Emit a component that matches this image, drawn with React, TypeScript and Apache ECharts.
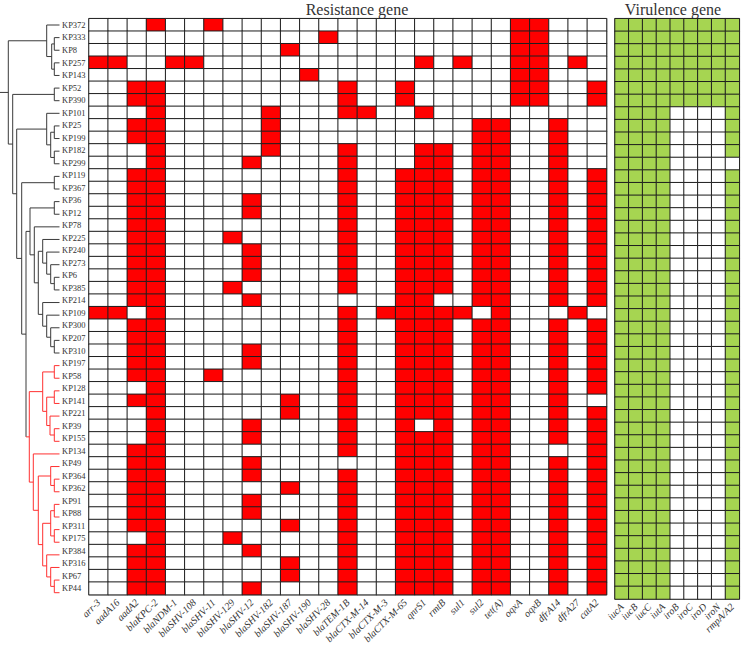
import React, { useEffect, useRef } from "react";
import * as echarts from "echarts";

// ---------- data ----------
const strains = [
  "KP372", "KP333", "KP8", "KP257", "KP143", "KP52", "KP390", "KP101", "KP25", "KP199",
  "KP182", "KP299", "KP119", "KP367", "KP36", "KP12", "KP78", "KP225", "KP240", "KP273",
  "KP6", "KP385", "KP214", "KP109", "KP300", "KP207", "KP310", "KP197", "KP58", "KP128",
  "KP141", "KP221", "KP39", "KP155", "KP134", "KP49", "KP364", "KP362", "KP91", "KP88",
  "KP311", "KP175", "KP384", "KP316", "KP67", "KP44",
];

const resistanceGenes = [
  "arr-3", "aadA16", "aadA2", "blaKPC-2", "blaNDM-1", "blaSHV-108", "blaSHV-11", "blaSHV-129",
  "blaSHV-12", "blaSHV-182", "blaSHV-187", "blaSHV-190", "blaSHV-28", "blaTEM-1B", "blaCTX-M-14",
  "blaCTX-M-3", "blaCTX-M-65", "qnrS1", "rmtB", "sul1", "sul2", "tet(A)", "oqxA", "oqxB",
  "dfrA14", "dfrA27", "catA2",
];

const virulenceGenes = ["iucA", "iucB", "iucC", "iutA", "iroB", "iroC", "iroD", "iroN", "rmpA/A2"];

// indices (into resistanceGenes) of the genes present in each strain, in strain order
const resistanceHits = [
  [3, 6, 22, 23],
  [12, 22, 23],
  [10, 22, 23],
  [0, 1, 4, 5, 17, 19, 22, 23, 25],
  [11, 22, 23],
  [2, 3, 13, 16, 22, 23, 26],
  [2, 3, 13, 16, 22, 23, 26],
  [3, 9, 13, 14, 17],
  [2, 3, 9, 20, 21, 24],
  [2, 3, 9, 20, 21, 24],
  [3, 9, 13, 17, 18, 20, 21, 24],
  [3, 8, 13, 17, 18, 20, 21, 24],
  [2, 3, 13, 16, 17, 18, 20, 21, 24, 26],
  [2, 3, 13, 16, 17, 18, 20, 21, 24, 26],
  [2, 3, 8, 13, 16, 17, 18, 20, 21, 24, 26],
  [2, 3, 8, 13, 16, 17, 18, 20, 21, 24, 26],
  [2, 3, 13, 16, 17, 18, 20, 21, 24, 26],
  [2, 3, 7, 13, 16, 17, 18, 20, 21, 24, 26],
  [2, 3, 8, 13, 16, 17, 18, 20, 21, 24, 26],
  [2, 3, 8, 13, 16, 17, 18, 20, 21, 24, 26],
  [2, 3, 8, 13, 16, 17, 18, 20, 21, 24, 26],
  [2, 3, 7, 13, 16, 17, 18, 20, 21, 24, 26],
  [2, 3, 8, 16, 17, 20, 21, 24, 26],
  [0, 1, 3, 13, 15, 16, 17, 18, 19, 21, 25],
  [2, 3, 13, 16, 17, 18, 20, 21, 24, 26],
  [2, 3, 13, 16, 17, 18, 20, 21, 24, 26],
  [2, 3, 8, 13, 16, 17, 18, 20, 21, 24, 26],
  [2, 3, 8, 13, 16, 17, 18, 20, 21, 24, 26],
  [2, 3, 6, 13, 16, 17, 18, 20, 21, 24, 26],
  [3, 13, 16, 17, 18, 20, 21, 24, 26],
  [2, 3, 10, 13, 16, 17, 18, 20, 21, 24],
  [3, 10, 13, 16, 17, 18, 20, 21, 24, 26],
  [3, 8, 13, 16, 18, 20, 21, 24, 26],
  [3, 8, 13, 16, 17, 18, 20, 21, 24, 26],
  [2, 3, 13, 16, 17, 18, 20, 21, 26],
  [2, 3, 8, 16, 17, 18, 20, 21, 24, 26],
  [2, 3, 8, 13, 16, 17, 18, 20, 21, 24, 26],
  [2, 3, 10, 13, 16, 17, 18, 20, 21, 24, 26],
  [2, 3, 8, 13, 16, 17, 18, 20, 21, 24, 26],
  [2, 3, 8, 13, 16, 17, 18, 20, 21, 24, 26],
  [2, 3, 10, 13, 16, 17, 18, 20, 21, 24, 26],
  [3, 7, 13, 16, 17, 18, 20, 21, 24, 26],
  [2, 3, 8, 13, 16, 17, 18, 20, 21, 24, 26],
  [2, 3, 10, 13, 16, 17, 18, 20, 21, 24, 26],
  [2, 3, 10, 13, 16, 17, 18, 20, 21, 24, 26],
  [2, 3, 8, 13, 16, 17, 18, 20, 21, 24, 26],
];

// indices (into virulenceGenes) present in each strain
const virulenceHits = [
  [0, 1, 2, 3, 4, 5, 6, 7, 8],
  [0, 1, 2, 3, 4, 5, 6, 7, 8],
  [0, 1, 2, 3, 4, 5, 6, 7, 8],
  [0, 1, 2, 3, 4, 5, 6, 7, 8],
  [0, 1, 2, 3, 4, 5, 6, 7, 8],
  [0, 1, 2, 3, 4, 5, 6, 7, 8],
  [0, 1, 2, 3, 4, 5, 6, 7, 8],
  [0, 1, 2, 3, 8], [0, 1, 2, 3, 8], [0, 1, 2, 3, 8], [0, 1, 2, 3, 8],
  [0, 1, 2, 3],
  [0, 1, 2, 3, 8], [0, 1, 2, 3, 8], [0, 1, 2, 3, 8], [0, 1, 2, 3, 8], [0, 1, 2, 3, 8],
  [0, 1, 2, 3, 8], [0, 1, 2, 3, 8], [0, 1, 2, 3, 8], [0, 1, 2, 3, 8], [0, 1, 2, 3, 8],
  [0, 1, 2, 3, 8], [0, 1, 2, 3, 8], [0, 1, 2, 3, 8], [0, 1, 2, 3, 8], [0, 1, 2, 3, 8],
  [0, 1, 2, 3, 8], [0, 1, 2, 3, 8], [0, 1, 2, 3, 8], [0, 1, 2, 3, 8], [0, 1, 2, 3, 8],
  [0, 1, 2, 3, 8], [0, 1, 2, 3, 8], [0, 1, 2, 3, 8], [0, 1, 2, 3, 8], [0, 1, 2, 3, 8],
  [0, 1, 2, 3, 8], [0, 1, 2, 3, 8], [0, 1, 2, 3, 8], [0, 1, 2, 3, 8], [0, 1, 2, 3, 8],
  [0, 1, 2, 3, 8], [0, 1, 2, 3, 8], [0, 1, 2, 3, 8], [0, 1, 2, 3, 8],
];

// dendrogram: [node, height (distance from leaves), child 1, child 2]; children listed before parents
const dendroNodes: [string, number, string, string][] = [
  ["A3", 5.2, "KP333", "KP8"],
  ["A4", 5.2, "KP257", "KP143"],
  ["A2", 7.8, "A3", "A4"],
  ["A", 12.8, "KP372", "A2"],
  ["B1", 5.2, "KP52", "KP390"],
  ["C3", 5.2, "KP25", "KP199"],
  ["C4", 5.2, "KP182", "KP299"],
  ["C2", 8.8, "C3", "C4"],
  ["C", 12.8, "KP101", "C2"],
  ["D1", 5.2, "KP119", "KP367"],
  ["F1", 5.2, "KP36", "KP12"],
  ["I4", 5.2, "KP6", "KP385"],
  ["I3", 8.8, "KP273", "I4"],
  ["I2", 12.8, "KP240", "I3"],
  ["I", 16.8, "KP225", "I2"],
  ["J4", 5.2, "KP207", "KP310"],
  ["J3", 8.8, "KP300", "J4"],
  ["J2", 12.8, "KP109", "J3"],
  ["J", 16.8, "KP214", "J2"],
  ["H", 21.2, "I", "J"],
  ["G", 25.2, "KP78", "H"],
  ["F", 29.5, "F1", "G"],
  ["R1a", 5.2, "KP197", "KP58"],
  ["Sa", 5.2, "KP128", "KP141"],
  ["Ta", 5.2, "KP39", "KP155"],
  ["T", 9.5, "KP221", "Ta"],
  ["S", 12.8, "Sa", "T"],
  ["R1", 16.8, "R1a", "S"],
  ["Va", 5.2, "KP364", "KP362"],
  ["V", 8.8, "KP49", "Va"],
  ["W1a", 5.2, "KP91", "KP88"],
  ["W1b", 5.2, "KP311", "KP175"],
  ["W1", 8.8, "W1a", "W1b"],
  ["W3a", 5.2, "KP67", "KP44"],
  ["W3", 8.8, "KP316", "W3a"],
  ["W2", 12.8, "KP384", "W3"],
  ["W", 16.8, "W1", "W2"],
  ["U", 21.2, "V", "W"],
  ["R2", 26.2, "KP134", "U"],
  ["R", 30.2, "R1", "R2"],
  ["E", 33.5, "F", "R"],
  ["D", 37.8, "D1", "E"],
  ["B2", 42.8, "C", "D"],
  ["B", 46.8, "B1", "B2"],
  ["root", 51.2, "A", "B"],
];
const redClade = "R";
const dendroMax = 59.5;

// ---------- derived ----------
const pos: Record<string, { h: number; y: number }> = {};
strains.forEach((s, i) => (pos[s] = { h: 0, y: i }));
const kids: Record<string, [string, string]> = {};
dendroNodes.forEach(([id, h, l, r]) => {
  kids[id] = [l, r];
  pos[id] = { h, y: (pos[l].y + pos[r].y) / 2 };
});
const redSet = new Set<string>();
const markRed = (id: string) => {
  redSet.add(id);
  const c = kids[id];
  if (c) {
    markRed(c[0]);
    markRed(c[1]);
  }
};
markRed(redClade);

const dendroSegments: number[][] = [];
dendroNodes.forEach(([id, h, l, r]) => {
  dendroSegments.push([h, pos[l].y, h, pos[r].y, redSet.has(id) ? 1 : 0]);
  [l, r].forEach((ch) => {
    dendroSegments.push([h, pos[ch].y, pos[ch].h, pos[ch].y, redSet.has(ch) ? 1 : 0]);
  });
});
const rootId = dendroNodes[dendroNodes.length - 1][0];
dendroSegments.push([dendroMax, pos[rootId].y, pos[rootId].h, pos[rootId].y, 0]);

const resData: number[][] = [];
strains.forEach((_, r) =>
  resistanceGenes.forEach((_, c) => resData.push([c, r, resistanceHits[r].includes(c) ? 1 : 0]))
);
const virData: number[][] = [];
strains.forEach((_, r) =>
  virulenceGenes.forEach((_, c) => virData.push([c, r, virulenceHits[r].includes(c) ? 1 : 0]))
);

const GRID_TOP = 18.7;
const GRID_H = 580.3;
const SERIF = "'Liberation Serif', 'Times New Roman', serif";

const xLabel = {
  interval: 0,
  rotate: 45,
  margin: 6,
  fontFamily: SERIF,
  fontStyle: "italic" as const,
  fontSize: 10,
  color: "#333",
};

const titleStyle = (text: string) => ({
  text,
  fontSize: 16,
  lineHeight: 17,
  fontFamily: SERIF,
  fill: "#333",
  textAlign: "center",
  textVerticalAlign: "top",
  align: "center",
  verticalAlign: "top",
});

const option: any = {
  animation: false,
  backgroundColor: "#fff",
  graphic: [
    { type: "text", x: 357, y: 0.5, style: titleStyle("Resistance gene") },
    { type: "text", x: 673, y: 0.5, style: titleStyle("Virulence gene") },
  ],
  grid: [
    { left: 0, top: GRID_TOP, width: dendroMax, height: GRID_H, show: false },
    {
      left: 89, top: GRID_TOP, width: 517.5, height: GRID_H,
      show: true, borderColor: "#9a9a9a", borderWidth: 1.5, backgroundColor: "transparent",
    },
    {
      left: 615, top: GRID_TOP, width: 124.3, height: GRID_H,
      show: true, borderColor: "#9a9a9a", borderWidth: 1.5, backgroundColor: "transparent",
    },
  ],
  xAxis: [
    { gridIndex: 0, type: "value", min: 0, max: dendroMax, inverse: true, show: false },
    {
      gridIndex: 1, type: "category", data: resistanceGenes,
      axisLine: { show: false }, axisTick: { show: false }, splitLine: { show: false },
      axisLabel: xLabel,
    },
    {
      gridIndex: 2, type: "category", data: virulenceGenes,
      axisLine: { show: false }, axisTick: { show: false }, splitLine: { show: false },
      axisLabel: xLabel,
    },
  ],
  yAxis: [
    { gridIndex: 0, type: "value", min: -0.5, max: strains.length - 0.5, inverse: true, show: false },
    {
      gridIndex: 1, type: "category", data: strains, inverse: true,
      axisLine: { show: false }, axisTick: { show: false }, splitLine: { show: false },
      axisLabel: { interval: 0, align: "left", margin: 27, fontSize: 8.5, fontFamily: SERIF, color: "#333" },
    },
    {
      gridIndex: 2, type: "category", data: strains, inverse: true,
      axisLine: { show: false }, axisTick: { show: false }, splitLine: { show: false },
      axisLabel: { show: false },
    },
  ],
  visualMap: [
    {
      type: "piecewise", show: false, seriesIndex: 1, dimension: 2,
      pieces: [{ value: 0, color: "#ffffff" }, { value: 1, color: "#ff0000" }],
    },
    {
      type: "piecewise", show: false, seriesIndex: 2, dimension: 2,
      pieces: [{ value: 0, color: "#ffffff" }, { value: 1, color: "#a6d551" }],
    },
  ],
  series: [
    {
      type: "custom",
      coordinateSystem: "cartesian2d",
      xAxisIndex: 0,
      yAxisIndex: 0,
      silent: true,
      clip: false,
      data: dendroSegments,
      encode: { x: [0, 2], y: [1, 3] },
      renderItem: (_: any, api: any) => {
        const a = api.coord([api.value(0), api.value(1)]);
        const b = api.coord([api.value(2), api.value(3)]);
        return {
          type: "line",
          shape: { x1: a[0], y1: a[1], x2: b[0], y2: b[1] },
          style: { stroke: api.value(4) ? "#ff3030" : "#3a3a3a", lineWidth: 1 },
        };
      },
    },
    {
      type: "heatmap",
      xAxisIndex: 1,
      yAxisIndex: 1,
      data: resData,
      silent: true,
      itemStyle: { borderColor: "#1e1e1e", borderWidth: 1 },
    },
    {
      type: "heatmap",
      xAxisIndex: 2,
      yAxisIndex: 2,
      data: virData,
      silent: true,
      itemStyle: { borderColor: "#1e1e1e", borderWidth: 1 },
    },
  ],
};

export default function App() {
  const ref = useRef<HTMLDivElement>(null);
  useEffect(() => {
    if (!ref.current) return;
    const chart = echarts.init(ref.current, null, { renderer: "svg" });
    chart.setOption(option);
    return () => chart.dispose();
  }, []);
  return (
    <div
      ref={ref}
      style={{ position: "absolute", left: 0, top: 0, width: 741, height: 646, background: "#fff" }}
    />
  );
}
